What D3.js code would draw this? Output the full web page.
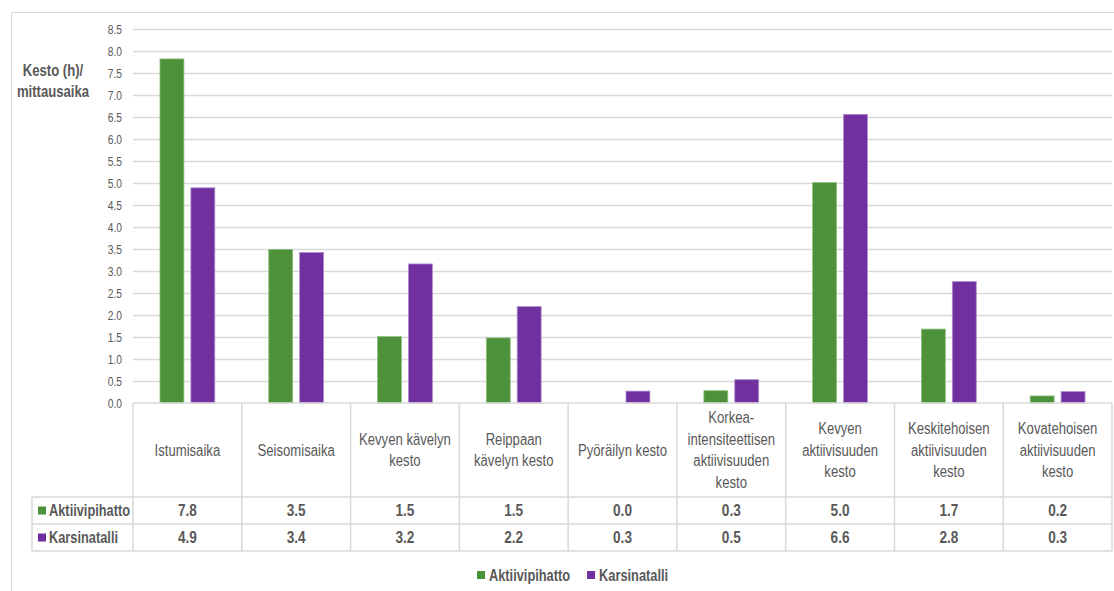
<!DOCTYPE html>
<html>
<head>
<meta charset="utf-8">
<script src="https://cdn.jsdelivr.net/npm/d3@7/dist/d3.min.js"></script>
<style>
  html, body { margin: 0; padding: 0; background: #fff; }
  svg { display: block; }
  text { font-family: "Liberation Sans Narrow", "Arial Narrow", "Liberation Sans", Arial, sans-serif; fill: #595959; }
</style>
</head>
<body>
<svg id="chart" width="1114" height="591"></svg>
<script>
// Activity durations (hours per measurement period) for two housing types
const categories = [
  "Istumisaika",
  "Seisomisaika",
  "Kevyen kävelyn\nkesto",
  "Reippaan\nkävelyn kesto",
  "Pyöräilyn kesto",
  "Korkea-\nintensiteettisen\naktiivisuuden\nkesto",
  "Kevyen\naktiivisuuden\nkesto",
  "Keskitehoisen\naktiivisuuden\nkesto",
  "Kovatehoisen\naktiivisuuden\nkesto"
];
const seriesNames = ["Aktiivipihatto", "Karsinatalli"];
const aktiivipihatto = [7.82, 3.49, 1.51, 1.48, 0.0, 0.28, 5.01, 1.68, 0.16];
const karsinatalli   = [4.89, 3.42, 3.16, 2.19, 0.27, 0.53, 6.56, 2.76, 0.26];
const yTicks = [0, 0.5, 1, 1.5, 2, 2.5, 3, 3.5, 4, 4.5, 5, 5.5, 6, 6.5, 7, 7.5, 8, 8.5];
const yTitle = ["Kesto (h)/", "mittausaika"];

const colors = { "Aktiivipihatto": "#4e913b", "Karsinatalli": "#7030a0" };
const strokes = { "Aktiivipihatto": "#8fc07f", "Karsinatalli": "#b08ccc" };
const seriesValues = { "Aktiivipihatto": aktiivipihatto, "Karsinatalli": karsinatalli };

const svg = d3.select("#chart");
const gridColor = "#d9d9d9";
const fmt = d3.format(".1f");

// Narrow lettering: squeeze each text run horizontally
function condense(sel, factor) {
  sel.each(function () {
    const w = this.getComputedTextLength();
    d3.select(this).attr("textLength", w * factor).attr("lengthAdjust", "spacingAndGlyphs");
  });
}

const plot = { left: 133, right: 1112, top: 29, bottom: 403 };

// outer chart frame
svg.append("rect")
  .attr("x", 11.5).attr("y", 12.5)
  .attr("width", 1120).attr("height", 620)
  .attr("fill", "none").attr("stroke", gridColor).attr("stroke-width", 1);

const x = d3.scaleBand().domain(categories).range([plot.left, plot.right]).padding(0);
const bw = x.bandwidth();
const xs = d3.scaleBand().domain(seriesNames)
  .range([bw * 0.248, bw * 0.752]).paddingInner(0.226).paddingOuter(0);
const y = d3.scaleLinear().domain([0, 8.5]).range([plot.bottom, plot.top]);

// gridlines
svg.append("g").selectAll("line")
  .data(yTicks.filter(t => t > 0))
  .join("line")
  .attr("x1", plot.left).attr("x2", plot.right)
  .attr("y1", d => y(d) + 0.5).attr("y2", d => y(d) + 0.5)
  .attr("stroke", gridColor).attr("stroke-width", 1.3);

// y axis labels
const yAxis = svg.append("g")
  .attr("transform", `translate(${plot.left - 5},0)`)
  .call(d3.axisLeft(y).tickValues(yTicks).tickFormat(fmt).tickSize(0).tickPadding(6));
yAxis.select(".domain").remove();
yAxis.selectAll("text")
  .style("font-family", "'Liberation Sans Narrow', 'Arial Narrow', 'Liberation Sans', sans-serif")
  .attr("font-size", 12.5).attr("fill", "#595959")
  .call(condense, 0.82);

// y axis title
svg.append("text")
  .attr("x", 53).attr("y", 70)
  .attr("text-anchor", "middle").attr("font-size", 16).attr("font-weight", "bold")
  .selectAll("tspan").data(yTitle).join("tspan")
  .attr("x", 53).attr("y", (d, i) => 70 + i * 21).attr("dy", "0.35em")
  .text(d => d)
  .call(condense, 0.82);

// bars
const groups = svg.append("g").selectAll("g")
  .data(categories)
  .join("g")
  .attr("transform", d => `translate(${x(d)},0)`);

groups.selectAll("rect")
  .data((d, i) => seriesNames.map(s => ({ s, v: seriesValues[s][i] })))
  .join("rect")
  .attr("x", d => xs(d.s))
  .attr("width", xs.bandwidth())
  .attr("y", d => y(d.v))
  .attr("height", d => y(0) - y(d.v))
  .attr("fill", d => colors[d.s])
  .attr("stroke", d => d.v > 0 ? strokes[d.s] : "none")
  .attr("stroke-width", 0.8);

// data table
const headerBottom = 497;
const rowH = 27;
const tableLeft = 32;
const table = svg.append("g");

const lineStyle = sel => sel.attr("stroke", gridColor).attr("stroke-width", 1.5).attr("fill", "none");

// horizontal rules
table.append("line").call(lineStyle)
  .attr("x1", plot.left).attr("x2", plot.right).attr("y1", plot.bottom).attr("y2", plot.bottom);
[0, 1, 2].forEach(r => {
  table.append("line").call(lineStyle)
    .attr("x1", tableLeft).attr("x2", plot.right)
    .attr("y1", headerBottom + r * rowH).attr("y2", headerBottom + r * rowH);
});
// vertical rules
const colEdges = categories.map(c => x(c)).concat([plot.right]);
table.selectAll("line.col").data(colEdges).join("line").attr("class", "col").call(lineStyle)
  .attr("x1", d => d).attr("x2", d => d)
  .attr("y1", plot.bottom).attr("y2", headerBottom + 2 * rowH);
table.append("line").call(lineStyle)
  .attr("x1", tableLeft).attr("x2", tableLeft)
  .attr("y1", headerBottom).attr("y2", headerBottom + 2 * rowH);

// header cells
const headerMid = (plot.bottom + headerBottom) / 2;
const lineGap = 21.5;
table.selectAll("text.head").data(categories).join("text").attr("class", "head")
  .attr("text-anchor", "middle").attr("font-size", 16)
  .each(function (d) {
    const lines = d.split("\n");
    const cx = x(d) + bw / 2;
    d3.select(this).selectAll("tspan").data(lines).join("tspan")
      .attr("x", cx)
      .attr("y", (l, i) => headerMid + (i - (lines.length - 1) / 2) * lineGap)
      .attr("dy", "0.35em")
      .text(l => l)
      .call(condense, 0.82);
  });

// value rows
seriesNames.forEach((s, r) => {
  const cy = headerBottom + r * rowH + rowH / 2;
  table.append("rect")
    .attr("x", 38).attr("y", cy - 4).attr("width", 8).attr("height", 8)
    .attr("fill", colors[s]);
  table.append("text")
    .attr("x", 49).attr("y", cy).attr("dy", "0.35em")
    .attr("font-size", 16).attr("font-weight", "bold")
    .text(s)
    .call(condense, 0.8);
  table.selectAll(null).data(seriesValues[s]).join("text")
    .attr("x", (v, i) => x(categories[i]) + bw / 2)
    .attr("y", cy).attr("dy", "0.35em")
    .attr("text-anchor", "middle").attr("font-size", 16).attr("font-weight", "bold")
    .text(v => fmt(v))
    .call(condense, 0.85);
});

// legend
const legend = svg.append("g").attr("transform", "translate(477,575)");
let lx = 0;
seriesNames.forEach(s => {
  legend.append("rect").attr("x", lx).attr("y", -4).attr("width", 8).attr("height", 8)
    .attr("fill", colors[s]);
  const t = legend.append("text").attr("x", lx + 12).attr("y", 0).attr("dy", "0.35em")
    .attr("font-size", 16).attr("font-weight", "bold").text(s)
    .call(condense, 0.8);
  lx += 12 + (+t.attr("textLength")) + 17;
});
</script>
</body>
</html>
